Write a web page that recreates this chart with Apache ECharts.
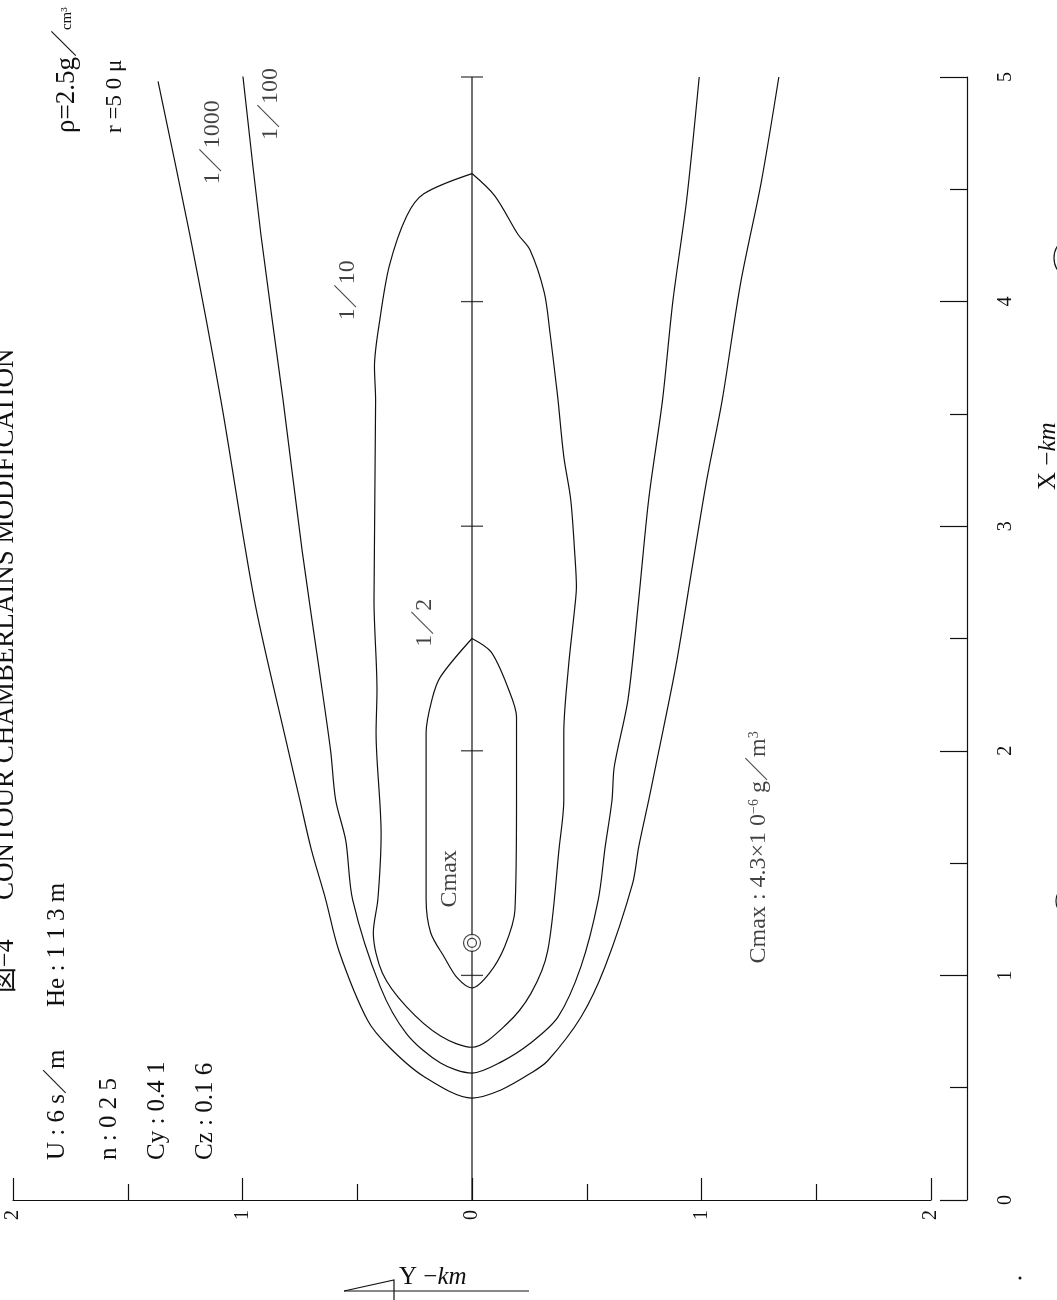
<!DOCTYPE html>
<html><head><meta charset="utf-8">
<script src="https://cdn.jsdelivr.net/npm/echarts@6/dist/echarts.min.js"></script>
<style>html,body{margin:0;padding:0;background:#fff}#c{width:1057px;height:1300px}</style>
</head><body><div id="c"></div>
<script>
// Crosswind distance Y (km) is drawn horizontally, downwind distance X (km) vertically
const crosswindTicks = [-2, -1, 0, 1, 2];
const downwindTicks = [0, 1, 2, 3, 4, 5];
const centerLine = [[0, 0], [0, 5]];
const centerTickX = [1, 2, 3, 4, 5];
const cmaxPoint = [0, 1.145];

// contour lines, points are [Y km, X km]
const contour_1_1000 = [[-1.368,4.98],[-1.23,4.30],[-1.094,3.56],[-0.948,2.67],[-0.80,2.00],[-0.75,1.78],[-0.70,1.56],[-0.638,1.34],[-0.58,1.11],[-0.455,0.80],[-0.36,0.68],[-0.21,0.55],[0,0.454],[0.126,0.49],[0.257,0.565],[0.33,0.62],[0.475,0.815],[0.58,1.04],[0.70,1.41],[0.726,1.57],[0.77,1.78],[0.80,1.93],[0.887,2.37],[0.96,2.82],[1.02,3.19],[1.09,3.56],[1.17,4.08],[1.26,4.53],[1.337,5.0]];
const contour_1_100 = [[-1.0,5.02],[-0.92,4.30],[-0.823,3.56],[-0.74,2.89],[-0.667,2.37],[-0.616,2.0],[-0.594,1.78],[-0.55,1.60],[-0.52,1.336],[-0.40,0.95],[-0.285,0.74],[-0.137,0.61],[0,0.565],[0.126,0.614],[0.257,0.70],[0.375,0.815],[0.475,1.04],[0.55,1.336],[0.58,1.57],[0.61,1.78],[0.62,1.93],[0.68,2.23],[0.726,2.67],[0.77,3.12],[0.83,3.56],[0.875,4.0],[0.935,4.45],[0.99,5.0]];
const contour_1_10 = [[0,4.57],[-0.21,4.48],[-0.285,4.38],[-0.36,4.16],[-0.40,3.93],[-0.425,3.71],[-0.42,3.56],[-0.427,2.67],[-0.414,2.27],[-0.418,2.08],[-0.396,1.63],[-0.41,1.34],[-0.43,1.19],[-0.39,1.01],[-0.285,0.86],[-0.137,0.73],[0,0.68],[0.148,0.78],[0.257,0.92],[0.33,1.11],[0.38,1.57],[0.40,1.78],[0.40,2.08],[0.42,2.37],[0.447,2.63],[0.455,2.73],[0.447,2.89],[0.43,3.12],[0.40,3.31],[0.375,3.56],[0.366,3.64],[0.34,3.86],[0.315,4.04],[0.253,4.23],[0.20,4.30],[0.10,4.47],[0,4.57]];
const contour_1_2 = [[0,2.50],[-0.137,2.33],[-0.174,2.23],[-0.20,2.08],[-0.20,1.78],[-0.20,1.34],[-0.18,1.19],[-0.12,1.08],[-0.065,0.99],[0,0.944],[0.076,1.01],[0.143,1.13],[0.187,1.29],[0.194,1.78],[0.194,2.15],[0.157,2.28],[0.083,2.44],[0,2.50]];

const contourLabels = ['1／1000', '1／100', '1／10', '1／2', 'Cmax'];
const contourLabelAt = [[-1.128,4.71],[-0.876,4.88],[-0.54,4.05],[-0.205,2.57],[-0.096,1.43]];
const cmaxNoteAt = [1.25, 1.57];

const titleText = 'CONTOUR CHAMBERLAINS MODIFICATION';
const paramLines = ['U : 6 s／m', 'n : 0 2 5', 'Cy : 0.4 1', 'Cz : 0.1 6'];

const INK = '#111';
const SERIF = "'Liberation Serif','DejaVu Serif','Noto Sans CJK JP',serif";
const chart = echarts.init(document.getElementById('c'), null, {renderer: 'canvas'});

function vtext(x, y, text, size, align, extra) {
  return {
    type: 'text', x: x, y: y, rotation: Math.PI / 2,
    style: Object.assign({
      text: text, fontSize: size, fontFamily: SERIF, fill: INK,
      align: align, textAlign: align, verticalAlign: 'middle', textVerticalAlign: 'middle'
    }, extra || {})
  };
}

const contourLine = (name, data) => ({
  name: name, type: 'line', data: data, smooth: 0.3, symbol: 'none',
  lineStyle: {color: INK, width: 1.2}, z: 3
});

const kmRich = {a: {fontSize: 25, fontFamily: SERIF, fill: INK, color: INK}, i: {fontSize: 25, fontFamily: SERIF, fontStyle: 'italic', fill: INK, color: INK}};

const graphics = [
  vtext(6, 993, '図−4', 26, 'left'),
  vtext(6, 900, titleText, 27, 'left'),
  vtext(57, 1160, paramLines[0], 25, 'left'),
  vtext(57, 1007, 'He : 1 1 3 m', 25, 'left'),
  vtext(109, 1160, paramLines[1], 25, 'left'),
  vtext(157, 1160, paramLines[2], 25, 'left'),
  vtext(205, 1160, paramLines[3], 25, 'left'),
  vtext(67, 133, '{a|ρ=2.5g／}{s|cm³}', 27, 'left', {rich: {a: {fontSize: 27, fontFamily: SERIF, fill: INK}, s: {fontSize: 15, fontFamily: SERIF, fill: INK}}}),
  vtext(115, 133, 'r =5 0 μ', 23, 'left'),
  vtext(1048, 490, '{a|X −}{i|km}', 25, 'left', {rich: kmRich}),
  {type: 'text', x: 399, y: 1277, style: {text: '{a|Y −}{i|km}', fontSize: 25, fontFamily: SERIF, fill: INK, align: 'left', textAlign: 'left', verticalAlign: 'middle', textVerticalAlign: 'middle', rich: kmRich}},
  {type: 'polyline', shape: {points: [[344, 1291], [394, 1280], [394, 1300]]}, style: {stroke: INK, lineWidth: 1.2, fill: null}},
  {type: 'line', shape: {x1: 344, y1: 1291, x2: 529, y2: 1291}, style: {stroke: INK, lineWidth: 1.2}},
  {type: 'arc', shape: {cx: 1076, cy: 258, r: 22, startAngle: 0, endAngle: Math.PI * 2}, style: {stroke: INK, lineWidth: 1.2, fill: null}},
  {type: 'arc', shape: {cx: 1072, cy: 901, r: 16, startAngle: 0, endAngle: Math.PI * 2}, style: {stroke: INK, lineWidth: 1.2, fill: null}},
  {type: 'circle', shape: {cx: 1020, cy: 1278, r: 1.5}, style: {fill: INK}}
];

const axisCommon = {
  type: 'value', interval: 1, splitLine: {show: false},
  axisLine: {show: true, onZero: false, lineStyle: {color: INK, width: 1.2}},
  axisLabel: {rotate: 90, color: INK, fontSize: 20, fontFamily: SERIF},
  minorSplitLine: {show: false}
};

chart.setOption({
  animation: false,
  backgroundColor: '#fff',
  grid: {left: 13, top: 77, width: 918, height: 1123, containLabel: false, outerBoundsMode: 'none'},
  xAxis: Object.assign({}, axisCommon, {
    min: -2, max: 2, position: 'bottom',
    axisTick: {show: true, inside: true, length: 22, lineStyle: {color: INK, width: 1.2}},
    minorTick: {show: true, splitNumber: 2, length: 16, lineStyle: {color: INK, width: 1.2}},
    axisLabel: Object.assign({}, axisCommon.axisLabel, {margin: 10, formatter: v => String(Math.abs(v))})
  }),
  yAxis: Object.assign({}, axisCommon, {
    min: 0, max: 5, position: 'right', offset: 36,
    axisTick: {show: true, inside: true, length: 27, lineStyle: {color: INK, width: 1.2}},
    minorTick: {show: true, splitNumber: 2, length: 17, lineStyle: {color: INK, width: 1.2}},
    axisLabel: Object.assign({}, axisCommon.axisLabel, {margin: 29})
  }),
  graphic: graphics,
  series: [
    {name: 'centerline', type: 'line', data: centerLine, symbol: 'none', lineStyle: {color: INK, width: 1.2}, z: 2},
    {name: 'centerTicks', type: 'scatter', data: centerTickX.map(x => [0, x]), symbol: 'rect', symbolSize: [22, 1.3], itemStyle: {color: INK}, z: 2},
    contourLine('1/1000', contour_1_1000),
    contourLine('1/100', contour_1_100),
    contourLine('1/10', contour_1_10),
    contourLine('1/2', contour_1_2),
    {name: 'Cmax outer', type: 'scatter', data: [cmaxPoint], symbol: 'circle', symbolSize: 17, itemStyle: {color: '#fff', borderColor: INK, borderWidth: 1.2}, z: 4},
    {name: 'Cmax inner', type: 'scatter', data: [cmaxPoint], symbol: 'circle', symbolSize: 9, itemStyle: {color: '#fff', borderColor: INK, borderWidth: 1.2}, z: 5},
    {name: 'labels', type: 'scatter', symbolSize: 0, silent: true, z: 6,
      data: contourLabels.map((t, i) => ({name: t, value: contourLabelAt[i]})),
      label: {show: true, position: 'inside', formatter: '{b}', rotate: 90, color: INK, fontSize: 24, fontFamily: SERIF}},
    {name: 'note', type: 'scatter', symbolSize: 0, silent: true, z: 6,
      data: [{name: 'note', value: cmaxNoteAt}],
      label: {show: true, position: 'inside', rotate: 90, color: INK,
        formatter: '{a|Cmax : 4.3×1 0}{s|−6}{a| g／m}{s|3}',
        rich: {a: {fontSize: 24, fontFamily: SERIF, color: INK}, s: {fontSize: 14, fontFamily: SERIF, color: INK, verticalAlign: 'top', padding: [0, 0, 10, 0]}}}}
  ]
});
</script></body></html>
